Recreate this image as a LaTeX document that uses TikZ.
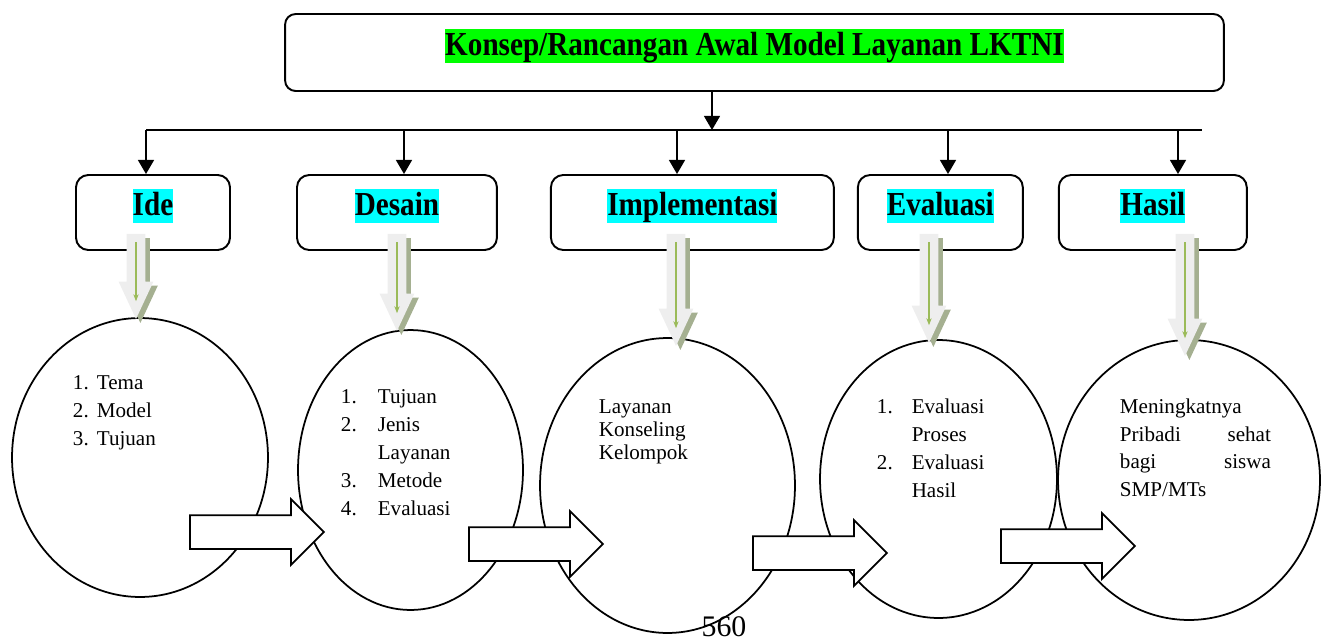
\documentclass[tikz,border=0pt]{standalone}
\usepackage{fontspec}
\setmainfont{Liberation Serif}
\usepackage{graphicx}
\usetikzlibrary{shapes.geometric,shapes.arrows,arrows.meta,shadows}
\definecolor{stabilo}{RGB}{0,255,0}
\definecolor{sian}{RGB}{0,255,255}
\definecolor{abu}{RGB}{238,238,238}
\definecolor{bayang}{RGB}{165,176,145}
\definecolor{hijau}{RGB}{155,187,89}
\providecommand{\sorot}[2]{\raisebox{0pt}[\height][\dimexpr\depth+7.4pt\relax]{\fboxsep=0pt\colorbox{#1}{\scalebox{1}[1.15]{\bfseries #2}\rule[-4.2pt]{0pt}{19.2pt}}}}
\providecommand{\butir}[2]{\makebox[#1][l]{#2}}
\tikzstyle{kotak} = [draw, rectangle, rounded corners=7pt, line width=1.1pt, minimum height=1.5cm, inner sep=0pt, font=\fontsize{16.6pt}{20pt}\selectfont]
\tikzstyle{lingkar} = [draw, ellipse, line width=1pt, inner sep=0pt]
\tikzstyle{isi} = [align=left, inner sep=0pt, anchor=north west, font=\fontsize{12pt}{15.9pt}\selectfont]
\tikzstyle{panah} = [draw, fill=white, single arrow, single arrow head extend=0.32cm, single arrow tip angle=90, inner sep=0.32cm, minimum height=2.68cm, line width=1pt, anchor=tail]
\tikzstyle{turun} = [single arrow, shape border rotate=270, fill=abu, inner sep=0.17cm, single arrow head extend=0.16cm, single arrow tip angle=50, anchor=tail, drop shadow={shadow xshift=2.5pt, shadow yshift=-2.3pt, fill=bayang, opacity=1}]
\tikzstyle{garis} = [hijau, line width=0.7pt, -{Stealth[length=4pt,width=3pt]}]

\begin{document}
\begin{tikzpicture}[x=0.02cm, y=-0.02cm, auto, line width=1.1pt, >={Triangle[length=8pt,width=9pt]}]
    \useasboundingbox (0,0) rectangle (1322,643);
    \node [kotak, minimum width=18.78cm, minimum height=1.54cm, rounded corners=6pt] (konsep) at (754.5,52.5) {\sorot{stabilo}{Konsep/Rancangan Awal Model Layanan LKTNI}};
    \node [kotak, minimum width=3.08cm] (ide) at (153,212.5) {\sorot{sian}{Ide}};
    \node [kotak, minimum width=4cm, right of=ide, node distance=4.88cm] (desain) {\sorot{sian}{Desain}};
    \node [kotak, minimum width=5.66cm, right of=desain, node distance=5.91cm] (impl) {\sorot{sian}{Implementasi}};
    \node [kotak, minimum width=3.3cm, right of=impl, node distance=4.96cm] (eval) {\sorot{sian}{Evaluasi}};
    \node [kotak, minimum width=3.76cm, right of=eval, node distance=4.25cm] (hasil) {\sorot{sian}{Hasil}};

    % Lingkaran isi
    \node [lingkar, minimum width=5.12cm, minimum height=5.58cm] (e1) at (140,457.5) {};
    \node [lingkar, minimum width=4.5cm, minimum height=5.6cm] (e2) at (410.5,470) {};
    \node [lingkar, minimum width=5.1cm, minimum height=5.9cm] (e3) at (667.5,485.5) {};
    \node [lingkar, minimum width=4.74cm, minimum height=5.56cm] (e4) at (938.5,479) {};
    \node [lingkar, minimum width=5.24cm, minimum height=5.6cm] (e5) at (1189,480) {};

    \node [isi] (isi1) at (72,375) {\butir{13.6pt}{1.}Tema\\ \butir{13.6pt}{2.}Model\\ \butir{13.6pt}{3.}Tujuan};
    \node [isi] (isi2) at (340,389) {\butir{21pt}{1.}Tujuan\\ \butir{21pt}{2.}Jenis\\ \butir{21pt}{}Layanan\\ \butir{21pt}{3.}Metode\\ \butir{21pt}{4.}Evaluasi};
    \node [isi, font=\fontsize{12pt}{13pt}\selectfont] (isi3) at (598,399) {Layanan\\ Konseling\\ Kelompok};
    \node [isi] (isi4) at (876,398) {\butir{19.8pt}{1.}Evaluasi\\ \butir{19.8pt}{}Proses\\ \butir{19.8pt}{2.}Evaluasi\\ \butir{19.8pt}{}Hasil};
    \node [isi, text width=3.02cm, font=\fontsize{12pt}{15.7pt}\selectfont] (isi5) at (1119,398) {Meningkatnya\\ Pribadi\hfill sehat\\ bagi\hfill siswa\\ SMP/MTs};

    % Panah blok
    \node [panah] (p1) at (189,532) {};
    \node [panah] (p2) at (468,544) {};
    \node [panah] (p3) at (752,553) {};
    \node [panah] (p4) at (1000,546) {};

    \node [turun, minimum height=1.7cm] (t1) at (136,233) {};
    \node [turun, minimum height=1.94cm] (t2) at (397,233) {};
    \node [turun, minimum height=2.24cm] (t3) at (676,233) {};
    \node [turun, minimum height=2.18cm] (t4) at (929,233) {};
    \node [turun, minimum height=2.44cm] (t5) at (1185,233) {};
    \foreach \n in {t1,t2,t3,t4,t5}
        \draw [garis] ([yshift=-0.18cm]\n.tail) -- ([yshift=0.4cm]\n.tip);

    \coordinate (pusat) at (712,130);
    \coordinate (kiri) at (146,130);
    \coordinate (kanan) at (1202,130);
    \draw [->] (konsep.south -| pusat) -- (pusat);
    \draw (kiri) -- (kanan);
    \foreach \x/\n in {146/ide, 404/desain, 677/impl, 948/eval, 1178/hasil}
        \draw [->] (\x,130) -- (\x,130 |- \n.north);

    \node [font=\fontsize{17pt}{19pt}\selectfont, anchor=base, inner sep=0pt] (hal) at (724,636) {560};
\end{tikzpicture}
\end{document}
